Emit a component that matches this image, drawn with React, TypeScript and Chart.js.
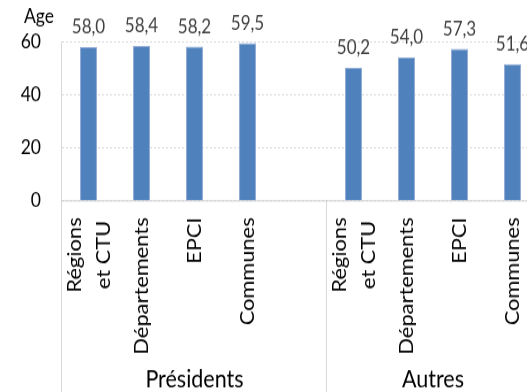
import React, { useEffect, useRef } from 'react';
import { Chart, registerables } from 'chart.js';

Chart.register(...registerables);

// Category labels (multi-line), grouped under two headings
const categories: string[][] = [
  ['Régions', 'et CTU'],
  ['Départements'],
  ['EPCI'],
  ['Communes'],
  [],
  ['Régions', 'et CTU'],
  ['Départements'],
  ['EPCI'],
  ['Communes'],
];
const groups: string[] = ['Présidents', 'Autres'];
const groupSizes: number[] = [5, 4];

// Average age per category
const ages: (number | null)[] = [58.0, 58.4, 58.2, 59.5, null, 50.2, 54.0, 57.3, 51.6];

const yTicks: number[] = [0, 20, 40, 60];
const yTitle = 'Age';

const FONT = 'Lato, "Open Sans", sans-serif';
const BAR_BLUE = '#4F81BD';

// The canvas is drawn at W x H and displayed taller (text looks narrow and tall)
const W = 560;
const H = 348;
const STRETCH = 1.15;
const sy = (v: number) => v / STRETCH;

const fmt = (v: number) => v.toFixed(1).replace('.', ',');

const decorPlugin = {
  id: 'decor',
  afterDraw(chart: any) {
    const { ctx, chartArea, scales } = chart;
    const xs = scales.x;
    const ys = scales.y;
    const h = chart.height;
    const step = xs.getPixelForValue(1) - xs.getPixelForValue(0);
    const zeroY = ys.getPixelForValue(0);
    const leftX = Math.round(chartArea.left) - 0.5;

    ctx.save();
    ctx.lineWidth = 1;

    // value axis line, running down through the category area
    ctx.strokeStyle = '#D9D9D9';
    ctx.beginPath();
    ctx.moveTo(leftX, chartArea.top);
    ctx.lineTo(leftX, h);
    ctx.stroke();

    // group separators
    let start = 0;
    const bounds: number[] = [xs.getPixelForValue(0) - step / 2];
    groupSizes.forEach((n) => {
      start += n;
      bounds.push(xs.getPixelForValue(start - 1) + step / 2);
    });
    bounds.slice(1).forEach((bx) => {
      const px = Math.round(bx) - 0.5;
      ctx.beginPath();
      ctx.moveTo(px, zeroY);
      ctx.lineTo(px, h);
      ctx.stroke();
    });

    // category axis line
    ctx.strokeStyle = '#C9C9C9';
    ctx.lineWidth = sy(1);
    ctx.beginPath();
    ctx.moveTo(leftX, zeroY);
    ctx.lineTo(chartArea.right, zeroY);
    ctx.stroke();

    // rotated category labels
    ctx.fillStyle = '#000';
    ctx.font = `19px ${FONT}`;
    const capH = 13.5;
    const lineGap = 29;
    const topY = chartArea.bottom + sy(16.5);
    categories.forEach((lines, i) => {
      if (!lines.length) return;
      const cx = xs.getPixelForValue(i);
      const blockW = Math.max(...lines.map((l) => ctx.measureText(l).width));
      ctx.save();
      ctx.translate(cx, topY);
      ctx.rotate(-Math.PI / 2);
      ctx.textAlign = 'center';
      ctx.textBaseline = 'alphabetic';
      lines.forEach((l, j) => {
        const ly = capH / 2 + (j - (lines.length - 1) / 2) * lineGap;
        ctx.fillText(l, -blockW / 2, ly);
      });
      ctx.restore();
    });

    // group headings
    ctx.font = `21.5px ${FONT}`;
    ctx.textAlign = 'center';
    ctx.textBaseline = 'alphabetic';
    groups.forEach((g, k) => {
      const gx = (bounds[k] + bounds[k + 1]) / 2;
      ctx.fillText(g, gx, sy(387));
    });

    // value axis title
    ctx.font = `17.5px ${FONT}`;
    ctx.textAlign = 'left';
    ctx.fillText(yTitle, 24, sy(23.5));

    ctx.restore();
  },
  afterDatasetsDraw(chart: any) {
    const { ctx } = chart;
    const meta = chart.getDatasetMeta(0);
    ctx.save();
    ctx.font = `17px ${FONT}`;
    ctx.fillStyle = '#404040';
    ctx.textAlign = 'center';
    ctx.textBaseline = 'alphabetic';
    meta.data.forEach((bar: any, i: number) => {
      const v = ages[i];
      if (v == null) return;
      ctx.fillText(fmt(v), bar.x, bar.y - sy(13.5));
    });
    ctx.restore();
  },
};

export default function App() {
  const ref = useRef<HTMLCanvasElement | null>(null);

  useEffect(() => {
    let chart: Chart | null = null;
    let cancelled = false;
    const build = () => {
      if (cancelled || !ref.current) return;
      chart = new Chart(ref.current, {
        type: 'bar',
        data: {
          labels: categories.map((c) => c.join(' ')),
          datasets: [
            {
              data: ages,
              backgroundColor: BAR_BLUE,
              borderColor: '#8FAAD4',
              borderWidth: 1,
              barPercentage: 0.32,
              categoryPercentage: 1,
            },
          ],
        },
        options: {
          animation: false,
          responsive: false,
          devicePixelRatio: 1,
          layout: { padding: { top: sy(41.7), right: 21, bottom: H - sy(201), left: 0 } },
          plugins: {
            legend: { display: false },
            tooltip: { enabled: false },
            title: { display: false },
          },
          scales: {
            x: {
              ticks: { display: false },
              grid: { display: false },
              border: { display: false },
              afterFit: (s: any) => {
                s.height = 0;
              },
            },
            y: {
              min: 0,
              max: 60,
              afterBuildTicks: (s: any) => {
                s.ticks = yTicks.map((v) => ({ value: v }));
              },
              ticks: {
                padding: 21,
                color: '#000',
                font: { family: FONT, size: 17.5 },
              },
              grid: { color: '#D4D4D4', drawTicks: false, lineWidth: sy(1) },
              border: { display: false, dash: [2, 2] },
              afterFit: (s: any) => {
                s.width = 62;
              },
            },
          },
        },
        plugins: [decorPlugin],
      });
    };
    const fonts = (document as any).fonts;
    if (fonts && fonts.load) {
      Promise.all([fonts.load(`17px Lato`), fonts.load(`21px Lato`)]).then(build, build);
    } else {
      build();
    }
    return () => {
      cancelled = true;
      if (chart) chart.destroy();
    };
  }, []);

  return (
    <div
      style={{
        position: 'fixed',
        left: 0,
        top: 0,
        width: 527,
        height: 392,
        overflow: 'hidden',
        background: '#fff',
      }}
    >
      <canvas
        ref={ref}
        width={W}
        height={H}
        style={{ display: 'block', width: W, height: H * STRETCH }}
      />
    </div>
  );
}
